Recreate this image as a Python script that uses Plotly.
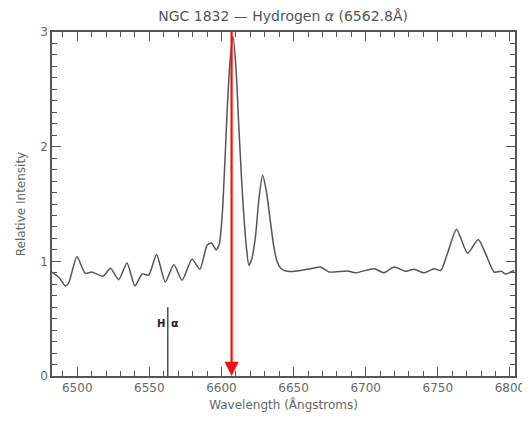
import plotly.graph_objects as go

# Spectrum (wavelength in Å, relative intensity)
wavelength = [6482, 6488, 6491.7, 6494, 6499.8, 6505.6, 6510, 6518, 6523, 6528.7,
              6534.5, 6540, 6545, 6549.5, 6555, 6561, 6567, 6572.7, 6579.6, 6585,
              6590, 6593, 6596.3, 6598.5, 6600.5, 6602.3, 6604, 6606, 6608, 6610,
              6612, 6614, 6615.5, 6617.3, 6619, 6621, 6623.6, 6626, 6628.5, 6631,
              6634, 6636, 6638.5, 6641, 6645.6, 6652.5, 6661.8, 6668.7, 6674.5, 6687,
              6693, 6705.8, 6712.7, 6719.7, 6727.8, 6733.5, 6740.5, 6747.4, 6752, 6756.7,
              6763, 6770.6, 6778, 6783, 6789, 6794, 6797, 6803]
intensity = [0.91, 0.85, 0.785, 0.81, 1.04, 0.895, 0.907, 0.87, 0.94, 0.84,
             0.985, 0.785, 0.89, 0.88, 1.06, 0.82, 0.97, 0.835, 1.02, 0.93,
             1.14, 1.16, 1.10, 1.15, 1.40, 1.85, 2.33, 2.75, 2.96, 2.70,
             2.18, 1.70, 1.40, 1.12, 0.965, 1.02, 1.22, 1.55, 1.75, 1.62,
             1.34, 1.15, 1.00, 0.94, 0.913, 0.916, 0.936, 0.95, 0.907, 0.916,
             0.90, 0.936, 0.90, 0.95, 0.913, 0.93, 0.90, 0.936, 0.92, 1.07,
             1.28, 1.07, 1.19, 1.07, 0.907, 0.913, 0.89, 0.92]

rest_wavelength = 6562.8
observed_wavelength = 6607
halpha_marker_top = 0.6

x_range = [6482.5, 6803.5]
y_range = [0, 3]
x_ticks = [6500, 6550, 6600, 6650, 6700, 6750, 6800]
y_ticks = [0, 1, 2, 3]
x_minor_ticks = list(range(6490, 6801, 10))
y_minor_ticks = [i / 10 for i in range(1, 30)]

axis_color = "#555555"
font_family = "DejaVu Sans"

fig = go.Figure()
fig.add_trace(go.Scatter(x=wavelength, y=intensity, mode="lines",
                         line=dict(color="#555555", width=1.5, shape="spline", smoothing=0.6),
                         hoverinfo="skip", showlegend=False))

# invisible trace that activates the minor-tick overlay axes
fig.add_trace(go.Scatter(x=x_range, y=y_range, xaxis="x2", yaxis="y2", mode="markers",
                         marker=dict(opacity=0, size=1), hoverinfo="skip", showlegend=False))

# H-alpha rest wavelength marker
fig.add_shape(type="line", x0=rest_wavelength, x1=rest_wavelength, y0=0, y1=halpha_marker_top,
              xref="x", yref="y", line=dict(color="#222222", width=1.2))
fig.add_annotation(x=rest_wavelength, y=0.46, text="<b>H</b>", showarrow=False,
                   xanchor="right", xshift=-1, font=dict(family=font_family, size=10, color="#222222"))
fig.add_annotation(x=rest_wavelength, y=0.46, text="<b>α</b>", showarrow=False,
                   xanchor="left", xshift=1, font=dict(family=font_family, size=11, color="#222222"))

# Red arrow at the observed wavelength
fig.add_annotation(x=observed_wavelength, y=0, ax=observed_wavelength, ay=3.02,
                   xref="x", yref="y", axref="x", ayref="y", text="",
                   showarrow=True, arrowhead=2, arrowsize=1.3, arrowwidth=2.2,
                   arrowcolor="#ee1111", standoff=0, startstandoff=0)

base = dict(ticks="inside", tickwidth=1, tickcolor=axis_color,
            showgrid=False, zeroline=False, automargin=False, fixedrange=True,
            showline=True, linecolor=axis_color, linewidth=1.5, mirror="ticks")

# The page's default 8px body margin shifts the figure; size/margins compensate for it
fig.update_layout(
    width=522, height=423,
    margin=dict(l=44, r=15, t=24, b=55),
    paper_bgcolor="white", plot_bgcolor="white",
    font=dict(family=font_family, size=12, color="#666666"),
    title=dict(text="NGC 1832 — Hydrogen <i>α</i> (6562.8Å)", x=0.527, xanchor="center",
               y=0.982, yanchor="middle", font=dict(size=14, color="#555555")),
    xaxis=dict(range=x_range, tickmode="array", tickvals=x_ticks, ticklen=9,
               title=dict(text="Wavelength (Ångstroms)", font=dict(size=12), standoff=6),
               tickfont=dict(size=12), **base),
    yaxis=dict(range=y_range, tickmode="array", tickvals=y_ticks, ticklen=9,
               title=dict(text="Relative Intensity", font=dict(size=12), standoff=12),
               tickfont=dict(size=12), **base),
    xaxis2=dict(range=x_range, tickmode="array", tickvals=x_minor_ticks, ticklen=5,
                overlaying="x", side="bottom", anchor="y2", showticklabels=False, **base),
    yaxis2=dict(range=y_range, tickmode="array", tickvals=y_minor_ticks, ticklen=5,
                overlaying="y", side="left", anchor="x2", showticklabels=False, **base),
)

fig.write_html("out.html")
